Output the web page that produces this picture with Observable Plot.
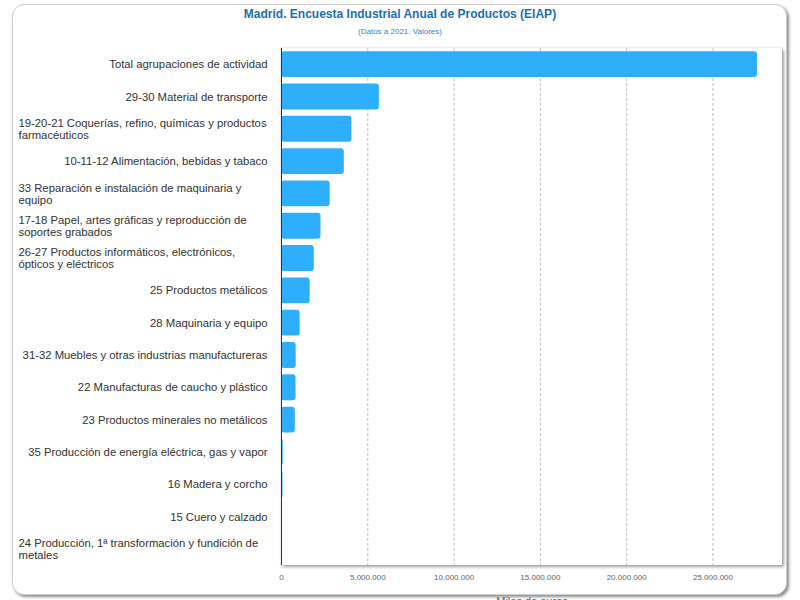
<!DOCTYPE html>
<html>
<head>
<meta charset="utf-8">
<script src="https://cdn.jsdelivr.net/npm/d3@7"></script>
<script src="https://cdn.jsdelivr.net/npm/@observablehq/plot@0.6"></script>
<style>
  html, body { margin: 0; padding: 0; width: 800px; height: 600px; overflow: hidden; background: #fff; font-family: "Liberation Sans", Arial, sans-serif; }
  #card { position: absolute; left: 12px; top: 4px; width: 773px; height: 589px; border: 1px solid #cfcfcf; border-radius: 12px; box-shadow: 2px 2px 3px rgba(0,0,0,0.45); background: #fff; }
  #title { position: absolute; left: 0; top: 7px; width: 800px; text-align: center; font-weight: bold; font-size: 12px; color: #1a70b6; }
  #subtitle { position: absolute; left: 0; top: 27px; width: 800px; text-align: center; font-size: 8px; color: #2f86cc; }
  #plotbg { position: absolute; left: 281px; top: 48px; width: 501px; height: 517px; background: #fff; box-shadow: 2px 2px 3px rgba(0,0,0,0.35), 0 0 2px rgba(0,0,0,0.15); }
  #chart { position: absolute; left: 0; top: 0; }
</style>
</head>
<body>
<div id="card"></div>
<div id="title">Madrid. Encuesta Industrial Anual de Productos (EIAP)</div>
<div id="subtitle">(Datos a 2021. Valores)</div>
<div id="plotbg"></div>
<div id="chart"></div>
<script>
const categories = [
  "Total agrupaciones de actividad",
  "29-30 Material de transporte",
  "19-20-21 Coquerías, refino, químicas y productos\nfarmacéuticos",
  "10-11-12 Alimentación, bebidas y tabaco",
  "33 Reparación e instalación de maquinaria y\nequipo",
  "17-18 Papel, artes gráficas y reproducción de\nsoportes grabados",
  "26-27 Productos informáticos, electrónicos,\nópticos y eléctricos",
  "25 Productos metálicos",
  "28 Maquinaria y equipo",
  "31-32 Muebles y otras industrias manufactureras",
  "22 Manufacturas de caucho y plástico",
  "23 Productos minerales no metálicos",
  "35 Producción de energía eléctrica, gas y vapor",
  "16 Madera y corcho",
  "15 Cuero y calzado",
  "24 Producción, 1ª transformación y fundición de\nmetales"
];
const values = [
  27580000, 5670000, 4080000, 3640000, 2820000, 2290000, 1900000, 1660000,
  1080000, 850000, 840000, 800000, 100000, 90000, 15000, 5000
];
const xTicks = [0, 5000000, 10000000, 15000000, 20000000, 25000000];
const xLabel = "Miles de euros";

const data = categories.map((c, i) => ({categoria: c, valor: values[i]}));
const es = d3.formatLocale({decimal: ",", thousands: ".", grouping: [3], currency: ["", " €"]});
const fmt = es.format(",d");

const chart = Plot.plot({
  width: 800,
  height: 620,
  marginLeft: 281,
  marginRight: 18,
  marginTop: 48,
  marginBottom: 55,
  style: {background: "transparent", overflow: "visible", fontFamily: "'Liberation Sans', Arial, sans-serif"},
  x: {domain: [0, 29030000], axis: null},
  y: {domain: categories, paddingInner: 0.2, paddingOuter: 0.1, round: false, axis: null},
  marks: [
    Plot.ruleX(xTicks.filter(d => d > 0), {stroke: "#c0c0c0", strokeWidth: 1, strokeDasharray: "3,2"}),
    Plot.barX(data, {x: "valor", y: "categoria", fill: "#2eaeff", rx: 3}),
    Plot.ruleX([0], {stroke: "#333", strokeWidth: 1}),
    Plot.text(xTicks, {x: d => d, text: d => fmt(d), frameAnchor: "bottom", lineAnchor: "middle", dy: 12, fontSize: 8, fill: "#666"}),
    Plot.text([xLabel], {text: d => d, frameAnchor: "bottom", lineAnchor: "middle", dy: 36, fontSize: 11, fill: "#666"}),
    Plot.text(data.filter(d => !d.categoria.includes("\n")), {y: "categoria", text: "categoria", frameAnchor: "left", textAnchor: "end", dx: -14, fontSize: 11.3, fill: "#333"}),
    Plot.text(data.filter(d => d.categoria.includes("\n")), {y: "categoria", text: "categoria", frameAnchor: "left", textAnchor: "start", dx: -263, fontSize: 11.3, lineHeight: 1.07, fill: "#333"})
  ]
});
document.getElementById("chart").appendChild(chart);
</script>
</body>
</html>
